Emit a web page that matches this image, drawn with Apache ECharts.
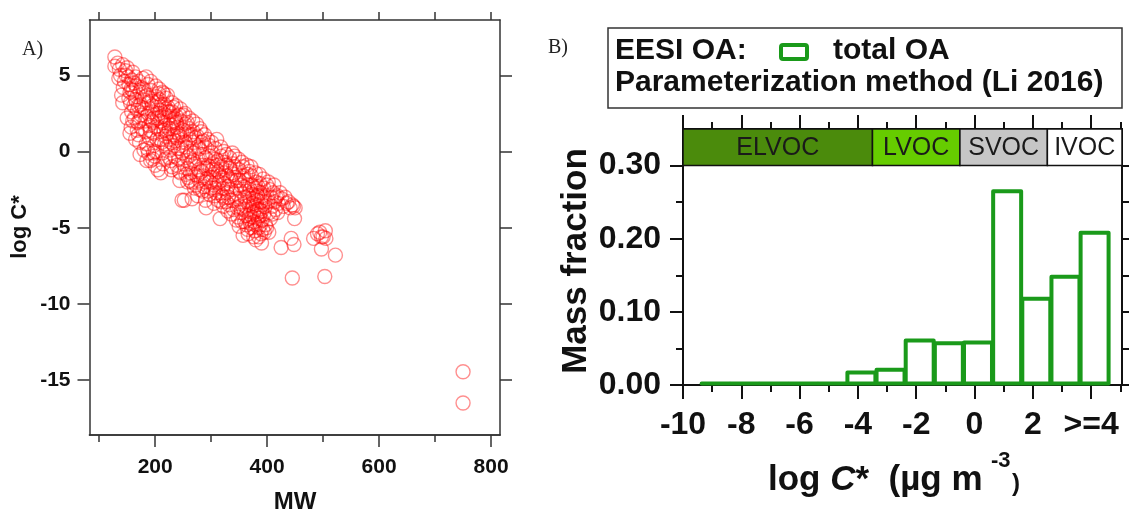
<!DOCTYPE html>
<html>
<head>
<meta charset="utf-8">
<script src="https://cdn.jsdelivr.net/npm/echarts@6/dist/echarts.min.js"></script>
<style>
html,body{margin:0;padding:0;background:#fff;}
#chart{width:1129px;height:509px;}
</style>
</head>
<body>
<div id="chart"></div>
<script>
// ---------- Panel A data: MW vs log C* ----------
const mwLogC = [
[128,6.2],[128,5.6],[133,5.8],[136,5.4],[138,5.0],[140,3.7],[142,5.7],[145,4.6],[147,5.3],[143,4.2],
[150,5.5],[152,4.9],[153,4.4],[155,3.9],[156,3.2],[157,1.6],[158,2.6],[160,5.2],[160,4.0],[162,3.0],[163,2.2],[158,4.7],
[165,4.9],[166,4.3],[167,3.6],[168,2.7],[169,1.9],[170,1.1],[172,0.6],[171,4.6],[173,3.9],[174,3.1],[175,2.4],[173,-0.2],[176,1.5],
[178,4.8],[179,4.1],[180,3.4],[181,2.8],[182,2.0],[183,1.3],[184,0.5],[185,-0.6],[186,3.7],[187,4.4],[188,2.5],[189,1.7],[190,0.9],[188,-0.1],[186,0.2],
[192,4.6],[193,4.0],[194,3.3],[195,2.6],[196,1.9],[197,1.2],[198,0.4],[199,-0.3],[200,-0.9],[201,4.3],[202,3.6],[203,2.9],[204,2.2],[205,1.5],[203,0.8],[205,-1.2],[196,-0.5],[200,0.0],
[207,4.1],[208,3.4],[209,2.7],[210,2.0],[211,1.3],[212,0.6],[213,-0.1],[214,-0.8],[215,3.8],[216,3.1],[217,2.4],[218,1.7],[219,1.0],[220,0.3],[210,-1.4],[218,-0.5],[213,3.9],[220,3.5],[212,2.3],[216,1.4],
[222,3.7],[223,2.9],[224,2.2],[225,1.5],[226,0.8],[227,0.1],[228,-0.6],[229,-1.2],[230,3.2],[231,2.6],[232,1.9],[233,1.1],[234,0.4],[235,-0.3],[230,-1.0],[226,2.6],[233,2.9],
[237,3.0],[238,2.3],[239,1.6],[240,0.9],[241,0.2],[242,-0.5],[243,-1.3],[244,-1.9],[245,2.8],[246,2.0],[247,1.3],[248,0.6],[249,-0.1],[250,-0.8],[248,-3.2],[252,-3.2],[244,1.0],[250,2.4],
[253,2.5],[254,1.8],[255,1.1],[256,0.3],[257,-0.4],[258,-1.1],[259,-1.7],[260,2.2],[261,1.5],[262,0.8],[263,0.0],[264,-0.7],[265,-2.0],[263,-1.4],[266,-3.1],[258,-2.0],
[267,2.0],[268,1.3],[269,0.6],[270,-0.1],[271,-0.8],[272,-1.5],[273,-2.2],[274,1.8],[275,1.0],[276,0.3],[277,-0.5],[278,-1.2],[279,-1.9],[280,1.5],[280,-2.5],[276,-2.9],
[282,1.3],[283,0.6],[284,-0.2],[285,-0.9],[286,-1.6],[287,-2.3],[288,1.1],[289,0.3],[290,-0.4],[291,-1.1],[292,-1.8],[290,-3.2],[291,-3.7],[293,-2.6],[294,0.8],
[296,0.4],[297,-0.3],[298,-1.0],[299,-1.7],[300,-2.4],[301,0.6],[302,-0.1],[303,-0.8],[304,-1.5],[305,-2.2],[306,-2.9],[305,-3.4],[307,0.2],[308,-0.5],[309,-1.2],[310,-1.9],[310,0.8],[308,-2.7],
[312,-0.6],[313,-1.3],[314,-2.0],[315,-2.7],[316,-4.4],[317,0.3],[318,-0.3],[319,-1.0],[320,-1.7],[321,-2.4],[322,-3.0],[323,0.0],[324,-0.7],[325,-1.4],[322,-3.6],[318,-3.3],
[327,-0.2],[328,-0.9],[329,-1.6],[330,-2.3],[331,-3.0],[332,-3.5],[333,-0.4],[334,-1.1],[335,-1.8],[336,-2.5],[337,-3.2],[338,-0.1],[339,-0.8],[340,-1.5],[340,-3.8],[336,-4.1],
[342,-0.3],[343,-1.0],[344,-1.7],[345,-2.4],[346,-3.1],[347,-3.7],[348,-4.3],[349,-0.5],[350,-1.2],[351,-1.9],[352,-2.6],[353,-3.3],[354,-4.0],[355,-0.7],[355,-4.6],[350,-4.9],
[357,-1.0],[358,-1.6],[359,-2.3],[360,-3.0],[361,-3.6],[362,-4.2],[363,-4.8],[364,-0.9],[365,-1.5],[366,-2.2],[367,-2.9],[368,-3.5],[369,-4.1],[370,-4.7],[357,-5.5],[365,-5.1],[362,-2.6],[368,-1.3],
[371,-1.0],[372,-1.6],[373,-2.2],[374,-2.8],[375,-3.4],[376,-4.0],[377,-4.6],[378,-5.2],[379,-1.4],[380,-2.0],[381,-2.6],[382,-3.2],[383,-3.8],[384,-4.4],[385,-5.0],[376,-5.6],[380,-3.0],[374,-3.6],[382,-4.1],[378,-2.4],[383,-2.9],[377,-3.9],
[386,-1.5],[387,-2.1],[388,-2.7],[389,-3.3],[390,-3.9],[391,-4.5],[392,-5.1],[390,-6.0],[393,-1.8],[394,-2.4],[395,-3.0],[396,-3.6],[388,-4.8],[392,-3.5],[386,-3.8],
[403,-5.3],[405,-2.5],[407,-3.0],[409,-3.6],[411,-2.7],[413,-3.3],[415,-3.8],[418,-2.9],[420,-3.4],[402,-2.0],[404,-4.0],[425,-6.3],
[423,-2.7],[426,-3.1],[429,-3.6],[432,-3.0],[435,-3.4],[438,-3.3],[441,-3.7],[443,-5.7],[445,-3.5],[447,-3.6],[448,-6.1],[449,-4.4],[450,-3.7],[445,-8.3],
[483,-5.7],[490,-5.4],[494,-5.3],[497,-5.6],[500,-5.6],[504,-5.2],[505,-5.7],[497,-6.4],[522,-6.8],[503,-8.2],[750,-14.45],[750,-16.5],
[195,3.0],[198,2.2],[201,1.6],[204,3.3],[207,2.5],[209,0.8],[211,3.1],[214,1.9],[217,0.5],[219,2.8],[221,1.2],[224,2.6],[227,1.8],[229,0.6],[231,1.5],[234,2.2],[236,0.7],[238,1.9],[241,1.2],[243,2.4],
[246,0.2],[251,1.4],[254,0.6],[257,1.9],[261,-0.3],[264,1.1],[268,-0.6],[272,0.9],[275,-1.6],[279,0.2],[283,-1.3],[286,0.7],[290,-2.0],[294,-0.9],[298,-2.0],[303,-1.2],[307,-2.4],[311,-0.9],[316,-1.6],[320,-2.9],
[324,-2.1],[328,-2.7],[332,-1.9],[337,-1.4],[341,-2.8],[346,-1.9],[350,-3.6],[353,-2.2],[358,-3.8],[361,-1.9],[364,-3.3],[367,-4.4],[370,-2.5],[373,-4.3],[376,-3.1],[379,-4.8],[381,-3.5],[384,-2.3],[387,-4.2],[389,-5.4],
[391,-2.9],[394,-4.1],[397,-4.8],[399,-2.2],[401,-3.3],[406,-4.4],[410,-4.1],[412,-2.2],[416,-3.0],[419,-4.0],[157,4.1],[162,4.5],[165,3.4],[168,1.4],[170,3.0],[177,2.9],[180,0.1],[183,3.6],[185,2.3],[189,3.2],
[191,1.4],[192,-0.6],[194,2.0],[197,-0.1],[172,2.0],[175,4.2],[153,3.5],[148,5.0],[135,4.8],[142,3.2],[150,2.2],[155,1.2],[160,2.0],[165,0.8],[184,4.9],[206,3.8],[225,-0.4],[239,-0.9],[245,-1.4],[255,-1.5],
[262,-1.9],[270,-2.4],[285,-2.6],[297,-2.8],[313,-3.2],[327,-3.3],[330,-3.9],[345,-4.5],[360,-4.6],[372,-5.0],[385,-5.6],[395,-5.3],[399,-5.0],[380,-5.8],[366,-5.4]
];
const mwTickLabels = [200, 400, 600, 800];
const mwTicksAll = [100, 200, 300, 400, 500, 600, 700, 800];
const mwMinorTicks = [100, 300, 500, 700];
const logCTickLabels = [-15, -10, -5, 0, 5];

// ---------- Panel B data: mass fraction by log C* bin ----------
const binCenters = [-9, -8, -7, -6, -5, -4, -3, -2, -1, 0, 1, 2, 3, 4];
const massFraction = [0.002, 0.002, 0.002, 0.002, 0.002, 0.017, 0.021, 0.061, 0.057, 0.058, 0.265, 0.118, 0.148, 0.208];
const binTickValues = [-10, -8, -6, -4, -2, 0, 2, 4];
const binTickLabels = ['-10', '-8', '-6', '-4', '-2', '0', '2', '>=4'];
const binMinorTicks = [-9, -7, -5, -3, -1, 1, 3, 5];
const fractionTicks = [0, 0.1, 0.2, 0.3];
const fractionMinorTicks = [0.05, 0.15, 0.25];
const fractionRightTicks = [0, 0.05, 0.1, 0.15, 0.2, 0.25, 0.3];
const bandNames = ['ELVOC', 'LVOC', 'SVOC', 'IVOC'];
const bandEdges = [-10, -3.5, -0.5, 2.5, 5.06];
const bandRange = [0.30, 0.35];

const FONT = "'Liberation Sans', Arial, sans-serif";
const bandColors = ['#4b8b0c', '#66cc00', '#c6c6c6', '#ffffff'];
const GREEN = '#1a9a1a';

const chart = echarts.init(document.getElementById('chart'), null, {renderer: 'canvas'});

function frameAxisA(extra) {
  return Object.assign({
    type: 'value', gridIndex: 0, splitLine: {show: false},
    axisLine: {show: true, onZero: false, lineStyle: {color: '#333', width: 1.5}},
    axisTick: {show: true, lineStyle: {color: '#333', width: 1.5}},
    axisLabel: {show: false}
  }, extra);
}
function frameAxisB(extra) {
  return Object.assign({
    type: 'value', gridIndex: 1, splitLine: {show: false},
    axisLine: {show: true, onZero: false, lineStyle: {color: '#111', width: 2}},
    axisTick: {show: true, lineStyle: {color: '#111', width: 2}},
    axisLabel: {show: false}
  }, extra);
}

const option = {
  animation: false,
  backgroundColor: '#fff',
  grid: [
    {left: 89.5, top: 20, width: 410.5, height: 415},
    {left: 683, top: 129, width: 439, height: 256}
  ],
  xAxis: [
    frameAxisA({position: 'bottom', min: 82.7, max: 816,
      axisTick: {show: true, length: 12, customValues: mwTickLabels, lineStyle: {color: '#333', width: 1.5}},
      axisLabel: {show: true, customValues: mwTickLabels, margin: 22, fontFamily: FONT, fontWeight: 'bold', fontSize: 21, color: '#111'}}),
    frameAxisA({position: 'bottom', min: 82.7, max: 816,
      axisTick: {show: true, length: 7, customValues: mwMinorTicks, lineStyle: {color: '#333', width: 1.5}}}),
    frameAxisA({position: 'top', min: 82.7, max: 816,
      axisTick: {show: true, length: 8, customValues: mwTicksAll, lineStyle: {color: '#333', width: 1.5}}}),
    frameAxisB({position: 'bottom', min: -10, max: 5.06,
      axisTick: {show: true, length: 14, customValues: binTickValues, lineStyle: {color: '#111', width: 2}},
      axisLabel: {show: true, customValues: binTickValues, margin: 24, fontFamily: FONT, fontWeight: 'bold', fontSize: 32, color: '#111',
        formatter: v => binTickLabels[binTickValues.indexOf(v)]}}),
    frameAxisB({position: 'bottom', min: -10, max: 5.06,
      axisTick: {show: true, length: 7, customValues: binMinorTicks, lineStyle: {color: '#111', width: 2}}}),
    frameAxisB({position: 'top', min: -10, max: 5.06,
      axisTick: {show: true, length: 14, customValues: binTickValues, lineStyle: {color: '#111', width: 2}}}),
    frameAxisB({position: 'top', min: -10, max: 5.06,
      axisTick: {show: true, length: 7, customValues: binMinorTicks, lineStyle: {color: '#111', width: 2}}})
  ],
  yAxis: [
    frameAxisA({position: 'left', min: -18.6, max: 8.63,
      axisTick: {show: true, length: 12, customValues: logCTickLabels, lineStyle: {color: '#333', width: 1.5}},
      axisLabel: {show: true, customValues: logCTickLabels, margin: 19, fontFamily: FONT, fontWeight: 'bold', fontSize: 21, color: '#111'}}),
    frameAxisA({position: 'right', min: -18.6, max: 8.63,
      axisTick: {show: true, length: 12, customValues: logCTickLabels, lineStyle: {color: '#333', width: 1.5}}}),
    frameAxisB({position: 'left', min: 0, max: 0.35,
      axisTick: {show: true, length: 13, customValues: fractionTicks, lineStyle: {color: '#111', width: 2}},
      axisLabel: {show: true, customValues: fractionTicks, margin: 22, fontFamily: FONT, fontWeight: 'bold', fontSize: 32, color: '#111',
        formatter: v => v.toFixed(2)}}),
    frameAxisB({position: 'left', min: 0, max: 0.35,
      axisTick: {show: true, length: 7, customValues: fractionMinorTicks, lineStyle: {color: '#111', width: 2}}}),
    frameAxisB({position: 'right', min: 0, max: 0.35,
      axisTick: {show: true, length: 8, customValues: fractionRightTicks, lineStyle: {color: '#111', width: 2}}})
  ],
  series: [
    {
      type: 'scatter', xAxisIndex: 0, yAxisIndex: 0,
      data: mwLogC, symbol: 'circle', symbolSize: 14,
      itemStyle: {color: 'rgba(0,0,0,0)', borderColor: 'rgba(255,0,0,0.55)', borderWidth: 1.4},
      emphasis: {disabled: true}
    },
    {
      type: 'custom', xAxisIndex: 3, yAxisIndex: 2,
      data: binCenters.map((c, i) => [c, massFraction[i]]),
      renderItem: function (params, api) {
        const c = api.value(0), v = api.value(1);
        const p0 = api.coord([c - 0.36, v]);
        const p1 = api.coord([c + 0.60, 0]);
        return {
          type: 'rect',
          shape: {x: p0[0], y: p0[1], width: p1[0] - p0[0], height: p1[1] - p0[1] - 1.5},
          style: {fill: '#fff', stroke: GREEN, lineWidth: 4, lineJoin: 'round'}
        };
      },
      z: 3
    },
    {
      type: 'custom', xAxisIndex: 3, yAxisIndex: 2,
      data: bandNames.map((n, i) => [bandEdges[i], bandEdges[i + 1], i]),
      renderItem: function (params, api) {
        const i = api.value(2);
        const p0 = api.coord([api.value(0), bandRange[1]]);
        const p1 = api.coord([api.value(1), bandRange[0]]);
        return {
          type: 'group',
          children: [
            {type: 'rect', shape: {x: p0[0], y: p0[1], width: p1[0] - p0[0], height: p1[1] - p0[1]},
             style: {fill: bandColors[i], stroke: '#111', lineWidth: 1.5}},
            {type: 'text', style: {text: bandNames[i], x: (p0[0] + p1[0]) / 2, y: (p0[1] + p1[1]) / 2 + 1,
             align: 'center', verticalAlign: 'middle', font: '25px ' + FONT, fill: '#1a1a1a'}}
          ]
        };
      },
      z: 4
    }
  ],
  graphic: [
    {type: 'text', left: 22, top: 40, style: {text: 'A)', font: "20px 'Liberation Serif', 'Times New Roman', serif", fill: '#222'}},
    {type: 'text', left: 548, top: 38, style: {text: 'B)', font: "20px 'Liberation Serif', 'Times New Roman', serif", fill: '#222'}},
    {type: 'text', x: 20, y: 227, rotation: Math.PI / 2,
     style: {text: 'log C*', font: 'bold 22px ' + FONT, fill: '#111', align: 'center', verticalAlign: 'middle'}},
    {type: 'text', x: 295, y: 502,
     style: {text: 'MW', font: 'bold 24px ' + FONT, fill: '#111', align: 'center', verticalAlign: 'middle'}},
    {type: 'text', x: 576, y: 261, rotation: Math.PI / 2,
     style: {text: 'Mass fraction', font: 'bold 35px ' + FONT, fill: '#111', align: 'center', verticalAlign: 'middle'}},
    {type: 'text', x: 768, y: 480,
     style: {text: '{a|log }{b|C}{a|*  (µg m}', align: 'left', verticalAlign: 'middle', fill: '#111',
       rich: {a: {font: 'bold 35px ' + FONT, fill: '#111'}, b: {font: 'italic bold 35px ' + FONT, fill: '#111'}}}},
    {type: 'text', x: 991, y: 461,
     style: {text: '-3', font: 'bold 22px ' + FONT, fill: '#111', align: 'left', verticalAlign: 'middle'}},
    {type: 'text', x: 1012, y: 484,
     style: {text: ')', font: 'bold 24px ' + FONT, fill: '#111', align: 'left', verticalAlign: 'middle'}},
    {type: 'rect', shape: {x: 608, y: 28, width: 514, height: 80},
     style: {fill: '#fff', stroke: '#333', lineWidth: 1.5}},
    {type: 'text', x: 615, y: 51,
     style: {text: 'EESI OA:', font: 'bold 30px ' + FONT, fill: '#111', align: 'left', verticalAlign: 'middle'}},
    {type: 'rect', shape: {x: 781, y: 45, width: 26, height: 14, r: 2},
     style: {fill: '#fff', stroke: GREEN, lineWidth: 4}},
    {type: 'text', x: 833, y: 51,
     style: {text: 'total OA', font: 'bold 30px ' + FONT, fill: '#111', align: 'left', verticalAlign: 'middle'}},
    {type: 'text', x: 615, y: 83,
     style: {text: 'Parameterization method (Li 2016)', font: 'bold 30px ' + FONT, fill: '#111', align: 'left', verticalAlign: 'middle'}}
  ]
};
chart.setOption(option);
</script>
</body>
</html>
